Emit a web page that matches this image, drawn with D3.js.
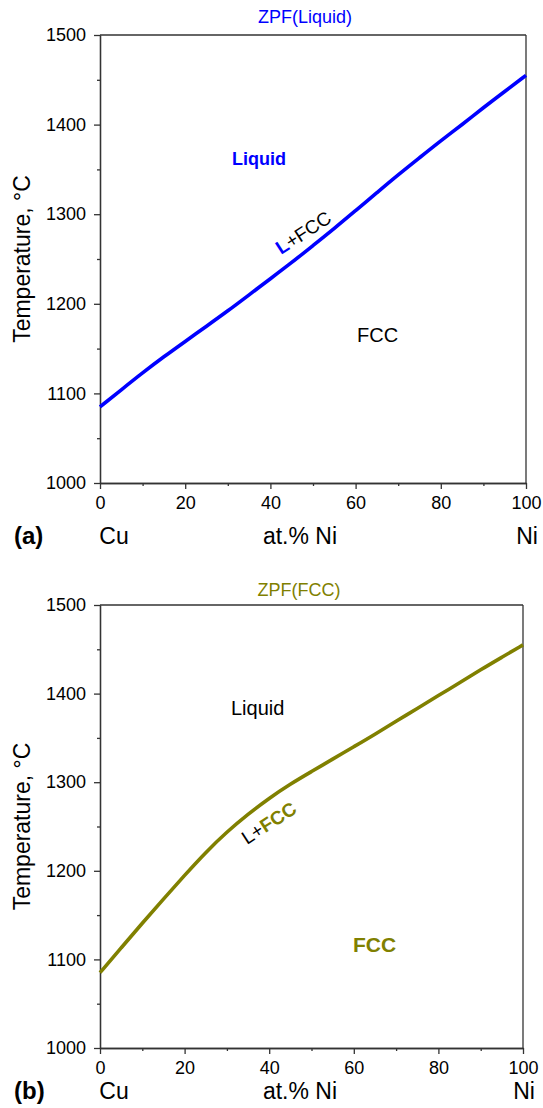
<!DOCTYPE html>
<html>
<head>
<meta charset="utf-8">
<script src="https://cdn.jsdelivr.net/npm/d3@7"></script>
<style>
  html, body { margin: 0; padding: 0; background: #fff; }
  svg { display: block; font-family: "Liberation Sans", Arial, sans-serif; }
</style>
</head>
<body>
<svg id="chart" width="543" height="1108"></svg>
<script>
// ---- data ----
const xNi = [0, 5, 10, 15, 20, 25, 30, 35, 40, 45, 50, 55, 60, 65, 70, 75, 80, 85, 90, 95, 100];
const liquidT = [1085, 1104, 1123, 1141, 1158, 1175, 1192, 1210, 1228, 1246, 1265, 1284, 1304, 1324, 1344, 1363, 1382, 1400, 1419, 1437, 1455];
const fccT = [1085, 1113, 1141, 1168, 1195, 1221, 1244, 1264, 1282, 1298, 1312, 1326, 1340, 1354, 1369, 1383, 1398, 1412, 1427, 1441, 1455];
const xTicks = [0, 20, 40, 60, 80, 100];
const xMinor = [10, 30, 50, 70, 90];
const yTicks = [1000, 1100, 1200, 1300, 1400, 1500];
const yMinor = [1050, 1150, 1250, 1350, 1450];
const titles = ["ZPF(Liquid)", "ZPF(FCC)"];
const panelTags = ["(a)", "(b)"];

const svg = d3.select("#chart");
const axisColor = "#333";

const panels = [
  { top: 35, bottom: 483, left: 100, right: 526, titleX: 305, titleY: 23, labelY: 544,
    color: "#0000ff", values: liquidT, title: titles[0], tag: panelTags[0] },
  { top: 605, bottom: 1048, left: 100, right: 523, titleX: 299, titleY: 596, labelY: 1099,
    color: "#808000", values: fccT, title: titles[1], tag: panelTags[1] }
];

panels.forEach((p, i) => {
  const x = d3.scaleLinear().domain([0, 100]).range([p.left, p.right]);
  const y = d3.scaleLinear().domain([1000, 1500]).range([p.bottom, p.top]);
  const g = svg.append("g");

  // frame top/right
  g.append("line").attr("x1", p.left).attr("x2", p.right).attr("y1", p.top).attr("y2", p.top)
    .attr("stroke", axisColor).attr("stroke-width", 1.3);
  g.append("line").attr("x1", p.right).attr("x2", p.right).attr("y1", p.top).attr("y2", p.bottom)
    .attr("stroke", axisColor).attr("stroke-width", 1.3);

  // axes
  const xa = g.append("g").attr("transform", `translate(0,${p.bottom})`)
    .call(d3.axisBottom(x).tickValues(xTicks).tickSize(6).tickSizeOuter(0).tickPadding(7).tickFormat(d3.format("d")));
  const xm = g.append("g").attr("transform", `translate(0,${p.bottom})`)
    .call(d3.axisBottom(x).tickValues(xMinor).tickSize(3).tickSizeOuter(0).tickFormat(""));
  const ya = g.append("g").attr("transform", `translate(${p.left},0)`)
    .call(d3.axisLeft(y).tickValues(yTicks).tickSize(6).tickSizeOuter(0).tickPadding(8).tickFormat(d3.format("d")));
  const ym = g.append("g").attr("transform", `translate(${p.left},0)`)
    .call(d3.axisLeft(y).tickValues(yMinor).tickSize(3).tickSizeOuter(0).tickFormat(""));
  [xa, xm, ya, ym].forEach(a => {
    a.selectAll("path.domain").attr("stroke", axisColor).attr("stroke-width", 1.3);
    a.selectAll(".tick line").attr("stroke", axisColor).attr("stroke-width", 1.3);
    a.selectAll(".tick text").attr("fill", "#000").style("font-size", "18px")
      .style("font-family", "'Liberation Sans', Arial, sans-serif");
  });

  // curve
  const line = d3.line().x((d, k) => x(xNi[k])).y(d => y(d)).curve(d3.curveBasis);
  g.append("path").datum(p.values).attr("d", line).attr("fill", "none")
    .attr("stroke", p.color).attr("stroke-width", 3.6);

  // title
  g.append("text").attr("x", p.titleX).attr("y", p.titleY).attr("text-anchor", "middle")
    .attr("fill", p.color).style("font-size", "18px").text(p.title);

  // y label
  const cy = (p.top + p.bottom) / 2;
  g.append("text").attr("transform", `translate(30,${cy}) rotate(-90)`).attr("text-anchor", "middle")
    .style("font-size", "23px").attr("fill", "#000").text("Temperature, °C");

  // bottom labels
  const by = p.labelY;
  g.append("text").attr("x", 14).attr("y", by).style("font-size", "24px").style("font-weight", "bold").text(p.tag);
  g.append("text").attr("x", 114).attr("y", by).attr("text-anchor", "middle").style("font-size", "23px").text("Cu");
  g.append("text").attr("x", 300).attr("y", by).attr("text-anchor", "middle").style("font-size", "23px").text("at.% Ni");
  g.append("text").attr("x", p.right + 1).attr("y", by).attr("text-anchor", "middle").style("font-size", "23px").text("Ni");
});

// region labels panel (a)
svg.append("text").attr("x", 232).attr("y", 165).attr("fill", "#0000ff")
  .style("font-size", "18px").style("font-weight", "bold").text("Liquid");
svg.append("text").attr("x", 357).attr("y", 342).attr("fill", "#000")
  .style("font-size", "20px").text("FCC");
const la = svg.append("text").attr("transform", "translate(281,255) rotate(-33)").style("font-size", "19px");
la.append("tspan").attr("fill", "#0000ff").style("font-weight", "bold").text("L");
la.append("tspan").attr("fill", "#000").text("+FCC");

// region labels panel (b)
svg.append("text").attr("x", 231).attr("y", 715).attr("fill", "#000")
  .style("font-size", "20px").text("Liquid");
svg.append("text").attr("x", 353).attr("y", 952).attr("fill", "#808000")
  .style("font-size", "21px").style("font-weight", "bold").text("FCC");
const lb = svg.append("text").attr("transform", "translate(247,845) rotate(-33)").style("font-size", "19px");
lb.append("tspan").attr("fill", "#000").text("L+");
lb.append("tspan").attr("fill", "#808000").style("font-weight", "bold").text("FCC");
</script>
</body>
</html>
